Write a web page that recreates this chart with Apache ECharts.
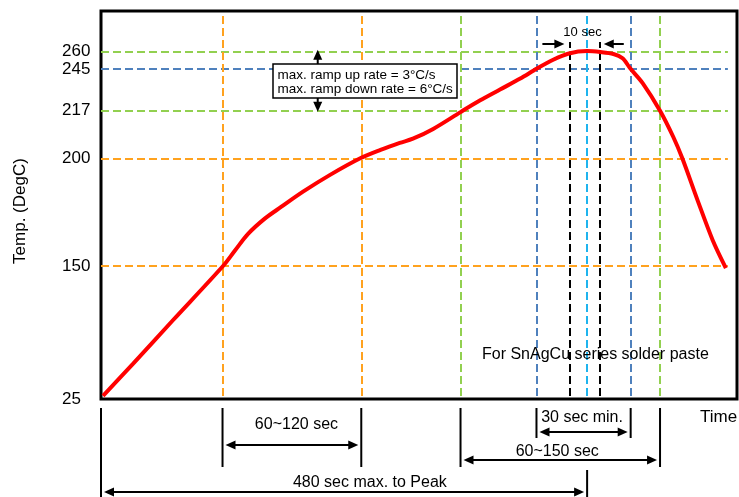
<!DOCTYPE html>
<html><head><meta charset="utf-8">
<script src="https://cdn.jsdelivr.net/npm/echarts@6/dist/echarts.min.js"></script>
<style>html,body{margin:0;padding:0;background:#fff}#c{width:739px;height:497px}</style>
</head><body><div id="c"></div>
<script>
const FONT = '"Liberation Sans", Arial, Helvetica, sans-serif';

// ---- reflow profile curve (time in s, temperature in °C) ----
const timeSec = [2, 32, 71, 120.5, 132.3, 145.2, 162, 177.8, 199.5, 226.2, 256, 276, 295, 308, 328, 355, 374, 394, 414, 430.5, 446, 462, 480, 493, 506, 515, 522.5, 535, 552, 565, 574, 589, 604, 617];
const tempC   = [28, 58.5, 99, 150, 157.2, 164.9, 172.1, 177.4, 184.5, 192.3, 200, 203, 205.5, 207, 210.5, 216.5, 223.8, 231.2, 238.6, 245.4, 252.8, 258.4, 260.5, 259.7, 258, 254.3, 245.6, 235.4, 217, 207.7, 200, 180.6, 162, 148];

// ---- schematic (non-linear) temperature axis ----
const yTickTemps = [25, 150, 200, 217, 245, 260];
const yTickAxisPos = [0, 133, 240.7, 288.3, 330, 347.3];

// ---- horizontal reference lines ----
const hLineTemps  = [260, 245, 217, 200, 150];
const hLineColors = ['#92D050', '#4F81BD', '#92D050', '#FFA21F', '#FFA21F'];

// ---- vertical reference lines (time, s) ----
const vLineTimes  = [120, 257, 355, 430, 462.5, 480, 492.5, 523, 552];
const vLineColors = ['#FFA21F', '#FFA21F', '#92D050', '#4F81BD', '#000000', '#1FB4EE', '#000000', '#4F81BD', '#92D050'];

// ---- duration brackets below the axis ----
const spanFrom   = [120, 430, 355, 0];
const spanTo     = [257, 523, 552, 480];
const spanLabels = ['60~120 sec', '30 sec min.', '60~150 sec', '480 sec max. to Peak'];
const spanTextAt = [193, 475, 450.5, 265.5];

function tempToAxis(temp) {
  const T = yTickTemps, P = yTickAxisPos;
  let i = 0;
  while (i < T.length - 2 && temp > T[i + 1]) i++;
  return P[i] + (temp - T[i]) * (P[i + 1] - P[i]) / (T[i + 1] - T[i]);
}

const X_MAX = 628, Y_MAX = 388, H_END = 619;
const V_BOTTOM = 3, V_TOP = 386, V_TOP_BLACK = 357;

const chart = echarts.init(document.getElementById('c'));

const curveData = timeSec.map((t, i) => [t, tempToAxis(tempC[i])]);

const markData = [];
hLineTemps.forEach((tp, i) => {
  const y = tempToAxis(tp);
  markData.push([{ coord: [0, y], lineStyle: { color: hLineColors[i] } }, { coord: [H_END, y] }]);
});
vLineTimes.forEach((t, i) => {
  const top = vLineColors[i] === '#000000' ? V_TOP_BLACK : V_TOP;
  markData.push([{ coord: [t, V_BOTTOM], lineStyle: { color: vLineColors[i] } }, { coord: [t, top] }]);
});

chart.setOption({
  animation: false,
  backgroundColor: '#fff',
  grid: { left: 101, right: 2, top: 11, bottom: 98, show: true, borderColor: '#000', borderWidth: 3, backgroundColor: 'transparent', containLabel: false, outerBoundsMode: 'none' },
  xAxis: { type: 'value', min: 0, max: X_MAX, axisLine: { show: false }, axisTick: { show: false }, axisLabel: { show: false }, splitLine: { show: false } },
  yAxis: {
    type: 'value', min: 0, max: Y_MAX,
    axisLine: { show: false }, axisTick: { show: false }, splitLine: { show: false },
    axisLabel: {
      customValues: yTickAxisPos,
      formatter: v => { const i = yTickAxisPos.findIndex(p => Math.abs(p - v) < 0.01); return i >= 0 ? String(yTickTemps[i]) : ''; },
      align: 'left', margin: 39, fontSize: 17, color: '#000', fontFamily: FONT
    }
  },
  series: [
    { type: 'line', data: [], z: 1, silent: true,
      markLine: { z: 1, silent: true, symbol: ['none', 'none'], label: { show: false },
        lineStyle: { type: [8, 4], width: 2 }, emphasis: { disabled: true }, data: markData } },
    { type: 'line', data: curveData, z: 3, smooth: 0.3, showSymbol: false, symbol: 'none', silent: true,
      lineStyle: { color: '#FF0000', width: 4 } }
  ]
});

function px(t, axisY) { return chart.convertToPixel({ gridIndex: 0 }, [t, axisY]); }
function X(t) { return px(t, 0)[0]; }
function Y(temp) { return px(0, tempToAxis(temp))[1]; }

const G = [];
const L = 10, W = 4.5;
function head(x, y, dir) {
  let pts;
  if (dir === 'r') pts = [[x, y], [x - L, y - W], [x - L, y + W]];
  if (dir === 'l') pts = [[x, y], [x + L, y - W], [x + L, y + W]];
  if (dir === 'u') pts = [[x, y], [x - W, y + L], [x + W, y + L]];
  if (dir === 'd') pts = [[x, y], [x - W, y - L], [x + W, y - L]];
  G.push({ type: 'polygon', z: 100, shape: { points: pts }, style: { fill: '#000' } });
}
function line(x1, y1, x2, y2, w) {
  G.push({ type: 'line', z: 100, shape: { x1, y1, x2, y2 }, style: { stroke: '#000', lineWidth: w || 2 } });
}
function text(str, x, y, size, align, extra) {
  G.push(Object.assign({ type: 'text', z: 101, x, y, style: { text: str, fontSize: size, fontFamily: FONT, fill: '#000', align: align || 'center', verticalAlign: 'middle' } }, extra || {}));
}

// bracket tick marks under the axis
const longTick = [0];
const midTick = [120, 257, 355, 552];
const shortTick = [430, 523];
longTick.forEach(t => line(X(t), 408, X(t), 497));
midTick.forEach(t => line(X(t), 408, X(t), 467));
shortTick.forEach(t => line(X(t), 408, X(t), 438));
line(X(480), 470, X(480), 497);

const arrowY = [445, 432, 460, 492];
const textY  = [425, 418, 452, 483];
spanFrom.forEach((f, i) => {
  const x1 = X(f) + 3, x2 = X(spanTo[i]) - 3, y = arrowY[i];
  line(x1 + L - 1, y, x2 - L + 1, y);
  head(x1, y, 'l'); head(x2, y, 'r');
  text(spanLabels[i], X(spanTextAt[i]), textY[i], 16, 'center');
});

// ramp rate double arrow between 217 and 260
const rx = X(214);
line(rx, Y(260) - 2 + L - 1, rx, Y(217) + 1 - L + 1);
head(rx, Y(260) - 2, 'u'); head(rx, Y(217) + 1, 'd');
G.push({ type: 'rect', z: 100, shape: { x: 273, y: 64, width: 184, height: 34 }, style: { fill: '#fff', stroke: '#000', lineWidth: 1.5 } });
text('max. ramp up rate = 3°C/s', 277.5, 75, 13.5, 'left');
text('max. ramp down rate = 6°C/s', 277.5, 89.5, 13.5, 'left');

// 10 sec at peak
const b1 = X(462.5), b2 = X(492.5);
line(b1 - 27, 44, b1 - 5 - L + 1, 44); head(b1 - 5, 44, 'r');
line(b2 + 24, 44, b2 + 4 + L - 1, 44); head(b2 + 4, 44, 'l');
text('10 sec', 582.5, 32, 13, 'center');

text('For SnAgCu series solder paste', 482, 355, 16, 'left');
text('Time', 700, 417, 17, 'left');
text('Temp. (DegC)', 20, 211, 17, 'center', { rotation: Math.PI / 2 });

chart.setOption({ graphic: { elements: G } });
</script>
</body></html>
